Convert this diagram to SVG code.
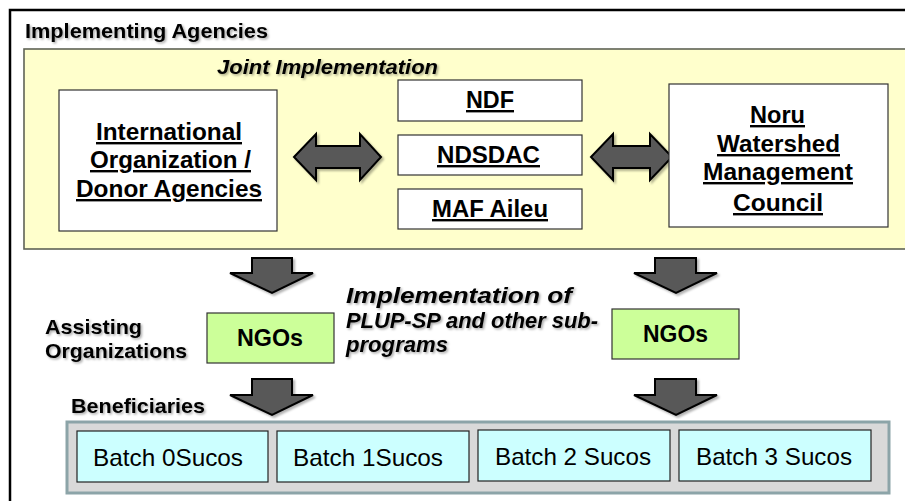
<svg xmlns="http://www.w3.org/2000/svg" width="905" height="501" viewBox="0 0 905 501">
<defs>
<filter id="sh" x="-10%" y="-20%" width="130%" height="160%">
<feDropShadow dx="1.5" dy="1.5" stdDeviation="1" flood-color="#000" flood-opacity="0.35"/>
</filter>
<filter id="bsh" x="-10%" y="-10%" width="130%" height="130%">
<feDropShadow dx="2" dy="2" stdDeviation="1.2" flood-color="#000" flood-opacity="0.3"/>
</filter>
</defs>
<style>
.lbl{font-family:"Liberation Sans",Arial,sans-serif;font-weight:bold;fill:#000}
.it{font-style:italic}
.u{text-decoration:underline}
.box{fill:#fff;stroke:#333;stroke-width:1.2}
.ngo{fill:#ccff99;stroke:#333;stroke-width:1.2}
.batch{fill:#ccffff;stroke:#222;stroke-width:1.2}
.arr{fill:#595959;stroke:#000;stroke-width:2;stroke-linejoin:miter}
.reg{font-family:"Liberation Sans",Arial,sans-serif;font-weight:normal;fill:#000}
</style>
<rect width="905" height="501" fill="#fff"/>
<rect x="10" y="10" width="920" height="520" fill="#fff" stroke="#000" stroke-width="2.5"/>
<g id="implementing-agencies">
<rect x="24" y="49" width="895" height="200" fill="#ffffcc" stroke="#5f6355" stroke-width="1.6"/>
<text class="lbl" x="25" y="38" font-size="20" textLength="243" lengthAdjust="spacingAndGlyphs" filter="url(#sh)">Implementing Agencies</text>
<text class="lbl it" x="217" y="74" font-size="20" textLength="221" lengthAdjust="spacingAndGlyphs" filter="url(#sh)">Joint Implementation</text>
</g>
<g id="connectors">
<path class="arr" filter="url(#bsh)" d="M294,157 L316,134 L316,146 L360,146 L360,134 L381,157 L360,180 L360,168 L316,168 L316,180 Z"/>
<path class="arr" filter="url(#bsh)" d="M591,157 L613,134 L613,146 L650,146 L650,134 L672,157 L650,180 L650,168 L613,168 L613,180 Z"/>
<path class="arr" filter="url(#bsh)" d="M252,258 L292,258 L292,273 L313,273 L272,293 L230,273 L252,273 Z"/>
<path class="arr" filter="url(#bsh)" d="M655,258 L696,258 L696,273 L717,273 L676,293 L634,273 L655,273 Z"/>
<path class="arr" filter="url(#bsh)" d="M252,379 L292,379 L292,395 L313,395 L272,415 L230,395 L252,395 Z"/>
<path class="arr" filter="url(#bsh)" d="M655,379 L696,379 L696,395 L717,395 L676,415 L634,395 L655,395 Z"/>
</g>
<g id="intl-org">
<rect class="box" x="59" y="90" width="218" height="141"/>
<text class="lbl u" x="96" y="140" font-size="24" textLength="146" lengthAdjust="spacingAndGlyphs">International</text>
<text class="lbl u" x="90" y="168" font-size="24" textLength="161" lengthAdjust="spacingAndGlyphs">Organization /</text>
<text class="lbl u" x="76" y="197" font-size="24" textLength="186" lengthAdjust="spacingAndGlyphs">Donor Agencies</text>
</g>
<g id="ndf">
<rect class="box" x="398" y="80" width="184" height="41"/>
<text class="lbl u" x="466" y="108" font-size="24" textLength="48" lengthAdjust="spacingAndGlyphs">NDF</text>
</g>
<g id="ndsdac">
<rect class="box" x="398" y="135" width="184" height="40"/>
<text class="lbl u" x="437" y="163" font-size="24" textLength="103" lengthAdjust="spacingAndGlyphs">NDSDAC</text>
</g>
<g id="maf-aileu">
<rect class="box" x="398" y="189" width="184" height="40"/>
<text class="lbl u" x="432" y="217" font-size="24" textLength="116" lengthAdjust="spacingAndGlyphs">MAF Aileu</text>
</g>
<g id="noru-council">
<rect class="box" x="669" y="84" width="219" height="143"/>
<text class="lbl u" x="750" y="123" font-size="24" textLength="55" lengthAdjust="spacingAndGlyphs">Noru</text>
<text class="lbl u" x="717" y="152" font-size="24" textLength="123" lengthAdjust="spacingAndGlyphs">Watershed</text>
<text class="lbl u" x="703" y="180" font-size="24" textLength="150" lengthAdjust="spacingAndGlyphs">Management</text>
<text class="lbl u" x="733" y="211" font-size="24" textLength="90" lengthAdjust="spacingAndGlyphs">Council</text>
</g>
<g id="assisting-label">
<text class="lbl" x="45" y="334" font-size="21" textLength="97" lengthAdjust="spacingAndGlyphs" filter="url(#sh)">Assisting</text>
<text class="lbl" x="45" y="358" font-size="21" textLength="142" lengthAdjust="spacingAndGlyphs" filter="url(#sh)">Organizations</text>
</g>
<g id="ngos-left">
<rect class="ngo" x="207" y="313" width="127" height="50"/>
<text class="lbl" x="237" y="346" font-size="24" textLength="66" lengthAdjust="spacingAndGlyphs">NGOs</text>
</g>
<g id="impl-label">
<text class="lbl it" x="346" y="303" font-size="22" textLength="226" lengthAdjust="spacingAndGlyphs" filter="url(#sh)">Implementation of</text>
<text class="lbl it" x="346" y="328" font-size="22" textLength="252" lengthAdjust="spacingAndGlyphs" filter="url(#sh)">PLUP-SP and other sub-</text>
<text class="lbl it" x="346" y="352" font-size="22" textLength="102" lengthAdjust="spacingAndGlyphs" filter="url(#sh)">programs</text>
</g>
<g id="ngos-right">
<rect class="ngo" x="612" y="309" width="127" height="50"/>
<text class="lbl" x="643" y="342" font-size="24" textLength="65" lengthAdjust="spacingAndGlyphs">NGOs</text>
</g>
<g id="beneficiaries">
<text class="lbl" x="71" y="413" font-size="21" textLength="134" lengthAdjust="spacingAndGlyphs" filter="url(#sh)">Beneficiaries</text>
<rect x="67" y="422" width="822" height="71" fill="#d9d9d9" stroke="#8ca4a8" stroke-width="3"/>
</g>
<g id="batch0">
<rect class="batch" x="77" y="431" width="191" height="51"/>
<text class="reg" x="93" y="466" font-size="24" textLength="150" lengthAdjust="spacingAndGlyphs">Batch 0Sucos</text>
</g>
<g id="batch1">
<rect class="batch" x="277" y="431" width="192" height="51"/>
<text class="reg" x="293" y="466" font-size="24" textLength="150" lengthAdjust="spacingAndGlyphs">Batch 1Sucos</text>
</g>
<g id="batch2">
<rect class="batch" x="478" y="430" width="192" height="51"/>
<text class="reg" x="495" y="465" font-size="24" textLength="156" lengthAdjust="spacingAndGlyphs">Batch 2 Sucos</text>
</g>
<g id="batch3">
<rect class="batch" x="679" y="430" width="192" height="51"/>
<text class="reg" x="696" y="465" font-size="24" textLength="156" lengthAdjust="spacingAndGlyphs">Batch 3 Sucos</text>
</g>
</svg>
